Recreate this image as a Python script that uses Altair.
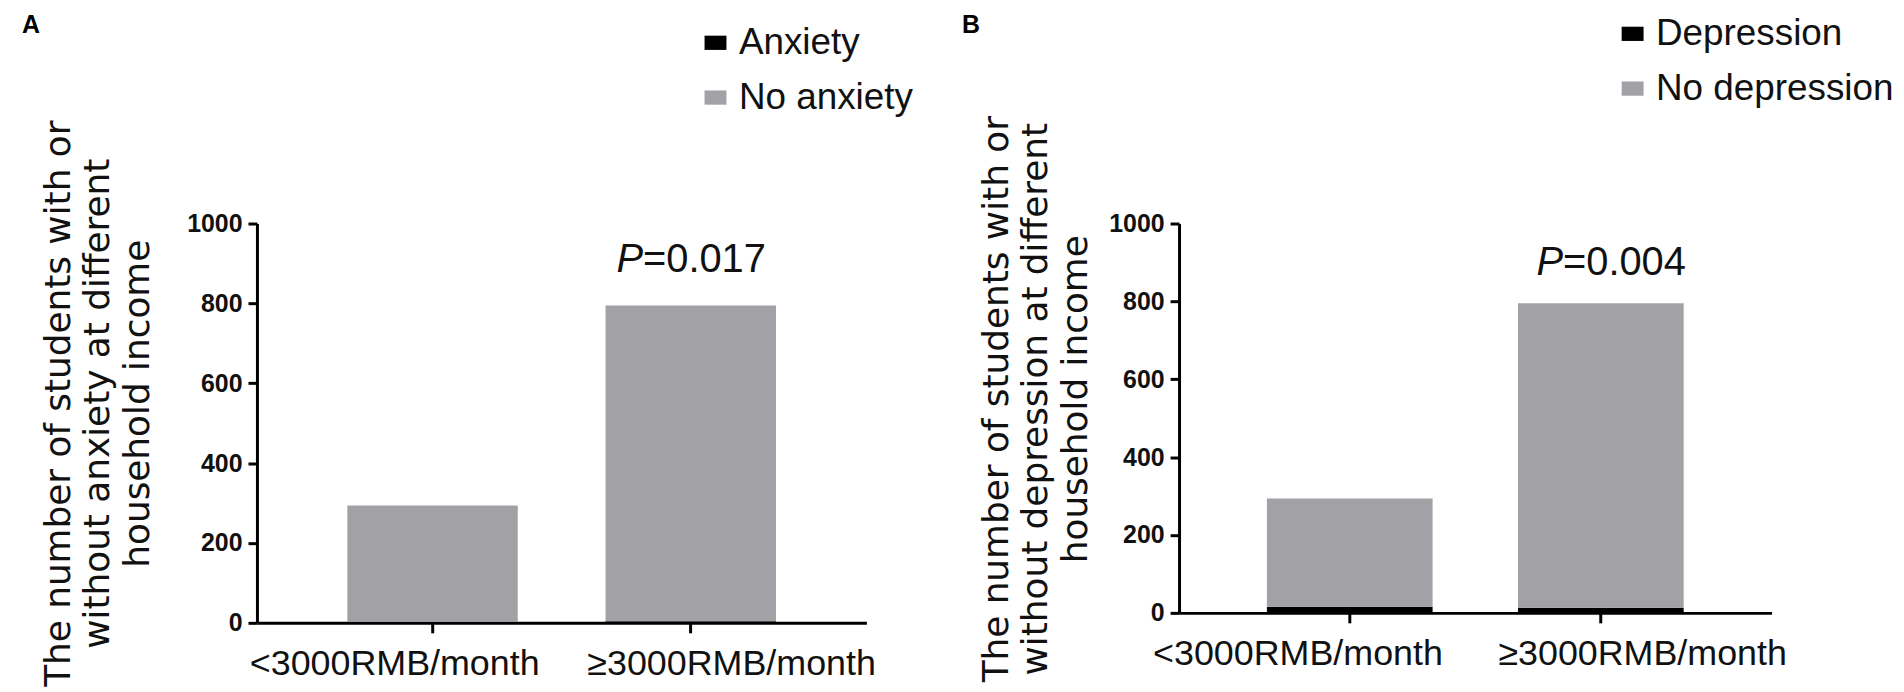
import altair as alt
import pandas as pd

incomes = ["<3000RMB/month", "≥3000RMB/month"]
anxiety = [3, 4]
no_anxiety = [291, 791]
depression = [16, 13]
no_depression = [278, 782]
p_anx = "=0.017"
p_dep = "=0.004"

FONT = "Liberation Sans"
GREY = "#a2a1a6"


def make_df(pos_name, neg_name, pos_vals, neg_vals):
    rows = []
    for i, inc in enumerate(incomes):
        rows.append({"income": inc, "group": pos_name, "n": pos_vals[i], "ord": 0})
        rows.append({"income": inc, "group": neg_name, "n": neg_vals[i], "ord": 1})
    return pd.DataFrame(rows)


def panel(letter, pos_name, neg_name, pos_vals, neg_vals, ptxt, title_lines,
          w, h, leg_x, leg_y, letter_x, letter_y, lab_off, title_pad,
          p_dx, p_dy):
    df = make_df(pos_name, neg_name, pos_vals, neg_vals)
    xenc = alt.X("income:N", sort=incomes, title=None,
                 scale=alt.Scale(paddingInner=0.34, paddingOuter=0.35),
                 axis=alt.Axis(labelAngle=0, labelFontSize=36, labelFont=FONT,
                               labelColor="#111", labelPadding=14,
                               labelLimit=0, labelOverlap=False,
                               labelOffset=alt.ExprRef(
                                   expr=f"datum.index < 0.5 ? {lab_off[0]} : {lab_off[1]}"),
                               domainColor="black", domainWidth=3,
                               tickColor="black", tickWidth=3, tickSize=10))
    bars = alt.Chart(df).mark_bar().encode(
        x=xenc,
        y=alt.Y("n:Q", stack="zero",
                scale=alt.Scale(domain=[0, 1000], nice=False),
                axis=alt.Axis(values=[0, 200, 400, 600, 800, 1000], format="d",
                              title=title_lines, titleFont="DejaVu Sans",
                              titleFontSize=36, titleFontWeight="normal",
                              titleColor="#111", titleLineHeight=40,
                              titlePadding=title_pad, titleY=h * 0.45,
                              labelFont=FONT, labelFontSize=25,
                              labelFontWeight="bold", labelColor="#111",
                              labelPadding=6,
                              domainColor="black", domainWidth=3,
                              tickColor="black", tickWidth=3, tickSize=9,
                              grid=False)),
        color=alt.Color("group:N",
                        scale=alt.Scale(domain=[pos_name, neg_name],
                                        range=["black", GREY]),
                        legend=alt.Legend(title=None, orient="none",
                                          legendX=leg_x, legendY=leg_y,
                                          symbolType="M-1,-0.65H1V0.65H-1Z",
                                          symbolSize=484,
                                          symbolStrokeWidth=0,
                                          labelFont=FONT, labelFontSize=37,
                                          labelColor="#111", labelLimit=0,
                                          rowPadding=17, labelOffset=5)),
        order=alt.Order("ord:Q"),
    )
    tot = pd.DataFrame({"income": [incomes[1]],
                        "n": [pos_vals[1] + neg_vals[1]],
                        "p": ["P"], "rest": [ptxt]})
    pt = alt.Chart(tot).mark_text(font=FONT, fontSize=40, fontStyle="italic",
                                  align="right", dx=p_dx, dy=p_dy,
                                  color="#111").encode(
        x=alt.X("income:N", sort=incomes), y="n:Q", text="p:N")
    rt = alt.Chart(tot).mark_text(font=FONT, fontSize=40, align="left",
                                  dx=p_dx, dy=p_dy, color="#111").encode(
        x=alt.X("income:N", sort=incomes), y="n:Q", text="rest:N")
    lab = alt.Chart(pd.DataFrame({"t": [letter]})).mark_text(
        font=FONT, fontSize=25, fontWeight="bold", align="left",
        baseline="middle", color="black").encode(
        x=alt.value(letter_x), y=alt.value(letter_y), text="t:N")
    return alt.layer(bars, pt, rt, lab).properties(
        width=w, height=h,
        view=alt.ViewBackground(stroke="transparent", strokeWidth=0))


A = panel("A", "Anxiety", "No anxiety", anxiety, no_anxiety, p_anx,
          ["The number of students with or",
           "without anxiety at different",
           "household income"], 612, 401, 442, -200, -236, -199,
          (-38, 41), 30, -48, -46)
B = panel("B", "Depression", "No depression", depression, no_depression, p_dep,
          ["The number of students with or",
           "without depression at different",
           "household income"], 595, 391, 437, -209, -218, -199,
          (-52, 42), 14, -38, -40)

chart = alt.hconcat(A, B, spacing=314, bounds="flush").resolve_scale(
    color="independent").resolve_legend(color="independent").properties(
    padding={"left": 14, "top": 4, "right": 2, "bottom": 0}
).configure_view(strokeWidth=0, stroke="transparent").configure(background="white")

chart.save("out.html", embed_options={"renderer": "svg", "actions": False})
